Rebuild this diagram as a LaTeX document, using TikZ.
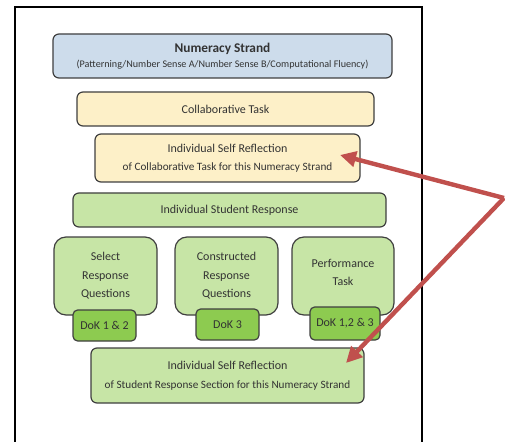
\documentclass[tikz,border=0pt]{standalone}
\usepackage{fontspec}
\setmainfont{Carlito}
\usetikzlibrary{arrows.meta}
\definecolor{bluefill}{HTML}{CDDCEB}
\definecolor{yelfill}{HTML}{FDF0C8}
\definecolor{grnfill}{HTML}{C7E5A6}
\definecolor{dokfill}{HTML}{8DCB50}
\definecolor{edge}{HTML}{3F3F3F}
\definecolor{txt}{HTML}{333333}
\definecolor{arrowred}{HTML}{C0504D}
\tikzset{
  box/.style={draw=edge, line width=0.9pt, rounded corners=4.5pt, text=txt, align=center, inner sep=0pt, anchor=center},
  tallbox/.style={box, rounded corners=9pt, fill=grnfill, minimum width=103*0.75pt, minimum height=78*0.75pt, font=\fontsize{9}{13.8}\selectfont},
  dokbox/.style={box, rounded corners=3.5pt, fill=dokfill, minimum height=31*0.75pt, font=\fontsize{9}{10}\selectfont},
  plainlabel/.style={text=txt, align=center, inner sep=0pt, font=\fontsize{9}{13.2}\selectfont},
  redarrow/.style={draw=arrowred, line width=3.3pt, -{Triangle[length=12pt,width=11.5pt]}},
}
\begin{document}
\begin{tikzpicture}[x=0.75pt,y=-0.75pt]
\useasboundingbox (0,0) rectangle (505,441);
\begin{scope}
\clip (0,0) rectangle (505,441);
\draw[line width=1.4pt] (15,7) rectangle (422,460);
\end{scope}
\node[box, fill=bluefill, minimum width=339*0.75pt, minimum height=44*0.75pt] (ns) at (222.5,56)
  {{\fontsize{10}{12}\selectfont\bfseries Numeracy Strand}\\[-1pt]{\fontsize{7.6}{8}\selectfont (Patterning/Number Sense A/Number Sense B/Computational Fluency)}};
\node[box, fill=yelfill, minimum width=297*0.75pt, minimum height=34*0.75pt, font=\fontsize{9}{10}\selectfont] (ct) at (225.5,109) {Collaborative Task};
\node[box, fill=yelfill, minimum width=265*0.75pt, minimum height=48*0.75pt] (isr1) at (227.5,158)
  {{\fontsize{9}{10}\selectfont Individual Self Reflection}\\[1.5pt]{\fontsize{8.4}{9}\selectfont of Collaborative Task for this Numeracy Strand}};
\node[box, fill=grnfill, minimum width=313*0.75pt, minimum height=34*0.75pt, font=\fontsize{9}{10}\selectfont] (isr) at (229.5,210) {Individual Student Response};
\node[tallbox] (srq) at (105.5,276) {Select\\Response\\Questions};
\node[tallbox] (crq) at (226.5,276) {Constructed\\Response\\Questions};
\node[tallbox, minimum width=102*0.75pt] (pt) at (343,276) {};
\node[plainlabel] (ptlabel) at (343,272.5) {Performance\\Task};
\node[dokbox, minimum width=63*0.75pt] (dok1) at (104.5,325.5) {DoK 1 \& 2};
\node[dokbox, minimum width=63*0.75pt] (dok2) at (227.5,324.5) {DoK 3};
\node[dokbox, minimum width=70*0.75pt, minimum height=33*0.75pt] (dok3) at (345,323.5) {DoK 1,2 \& 3};
\node[box, fill=grnfill, minimum width=273*0.75pt, minimum height=55*0.75pt] (isr2) at (227.5,375.5)
  {{\fontsize{9}{10}\selectfont Individual Self Reflection}\\[2.5pt]{\fontsize{8.4}{9}\selectfont of Student Response Section for this Numeracy Strand}};
\coordinate (apex) at (504,198);
\coordinate (tip1) at (340,155);
\coordinate (tip2) at (346,363);
\draw[redarrow] (apex) -- (tip1);
\draw[redarrow] (apex) -- (tip2);
\end{tikzpicture}
\end{document}
